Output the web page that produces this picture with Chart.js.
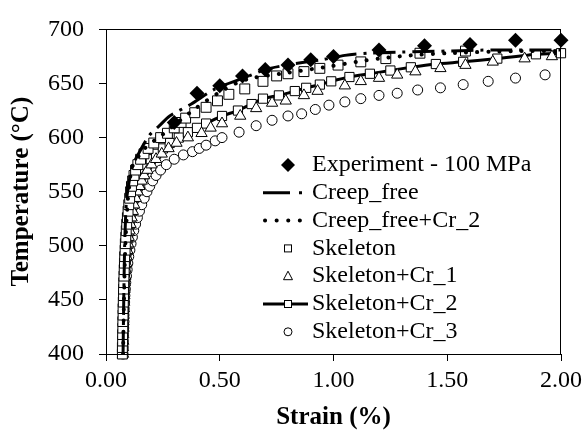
<!DOCTYPE html>
<html>
<head>
<meta charset="utf-8">
<script src="https://cdn.jsdelivr.net/npm/chart.js@4.4.0/dist/chart.umd.min.js"></script>
<style>
  html, body { margin: 0; padding: 0; background: #fff; }
  #wrap { width: 587px; height: 439px; position: relative; }
</style>
</head>
<body>
<div id="wrap"><canvas id="strainChart"></canvas></div>
<script>
// tick values
const xTicks = [0, 0.5, 1.0, 1.5, 2.0];
const yTicks = [400, 450, 500, 550, 600, 650, 700];

// series names (legend order)
const seriesNames = ['Experiment - 100 MPa', 'Creep_free', 'Creep_free+Cr_2', 'Skeleton',
                     'Skeleton+Cr_1', 'Skeleton+Cr_2', 'Skeleton+Cr_3'];

// experiment (strain %, temperature C)
const expStrain = [0.30, 0.40, 0.50, 0.60, 0.70, 0.80, 0.90, 1.00, 1.20, 1.40, 1.60, 1.80, 2.00];
const expTemp   = [614, 641, 648, 657, 663, 667, 672, 675, 681, 685, 686, 690, 690];

// Creep_free (dash-dot line)
const cfStrain = [0.075, 0.078, 0.082, 0.085, 0.090, 0.100, 0.115, 0.135, 0.19, 0.235, 0.28, 0.375,
                  0.48, 0.63, 0.70, 0.82, 0.95, 1.05, 1.15, 1.30, 1.50, 1.70, 2.00];
const cfTemp   = [400, 450, 500, 520, 542, 557, 573, 582, 602, 611, 620, 631,
                  645, 657, 663, 668, 672, 676, 678, 679, 680, 681, 681];

// Creep_free+Cr_2 (dotted line)
const cfCr2Strain = [0.075, 0.079, 0.085, 0.095, 0.105, 0.115, 0.17, 0.25, 0.32, 0.40, 0.50,
                     0.57, 0.64, 0.80, 0.99, 1.10, 1.20, 1.34, 1.50, 1.80, 2.00];
const cfCr2Temp   = [400, 450, 500, 540, 560, 573, 590, 603, 615, 628, 642,
                     650, 655, 660, 666, 670, 673, 676, 678, 680, 680];

// temperatures of the dense low part of the simulations
const lowTemp = [400, 406, 412, 418, 424, 430, 436, 442, 448, 454, 460, 466, 472, 478, 484,
                 490, 496, 502, 508, 514, 520, 526, 532, 538, 544];

// Skeleton (open squares)
const skelTemp = lowTemp.concat([550, 555, 560, 565, 570, 575, 580, 585, 590, 595, 600,
  604, 609, 614, 618, 623, 628, 634, 640,
  645, 652, 657, 659, 661, 664, 667, 670, 673, 678, 680]);
const skelStrain = [0.072, 0.072, 0.073, 0.073, 0.074, 0.074, 0.075, 0.075, 0.076, 0.077, 0.077,
  0.078, 0.079, 0.080, 0.081, 0.082, 0.084, 0.085, 0.087, 0.089, 0.091, 0.094, 0.097, 0.100, 0.104,
  0.108, 0.112, 0.117, 0.123, 0.130, 0.140, 0.152, 0.167, 0.185, 0.21, 0.24,
  0.27, 0.30, 0.33, 0.35, 0.39, 0.44, 0.49, 0.54,
  0.61, 0.69, 0.75, 0.80, 0.87, 0.94, 1.02, 1.12, 1.23, 1.38, 1.58];

// Skeleton+Cr_1 (open triangles)
const cr1Temp = lowTemp.concat([550, 555, 560, 565, 570, 575, 580, 585, 590, 595, 600,
  604, 609, 613, 620, 627, 632, 634, 639, 643, 648, 652, 655, 658, 661, 664, 667, 670, 673, 675]);
const cr1Strain = [0.075, 0.075, 0.076, 0.076, 0.077, 0.077, 0.078, 0.079, 0.080, 0.081, 0.082,
  0.083, 0.085, 0.087, 0.089, 0.091, 0.094, 0.097, 0.100, 0.104, 0.108, 0.113, 0.118, 0.124, 0.131,
  0.139, 0.147, 0.157, 0.168, 0.182, 0.20, 0.22, 0.245, 0.275, 0.31, 0.36,
  0.42, 0.46, 0.51, 0.59, 0.66, 0.73, 0.79, 0.87, 0.93, 1.05, 1.12, 1.20, 1.28, 1.36, 1.47,
  1.58, 1.70, 1.84, 1.96];

// Skeleton+Cr_2 (line with squares)
const cr2Temp = lowTemp.concat([550, 555, 560, 565, 570, 575, 580, 585, 590, 595, 600,
  605, 609, 613, 620, 625, 631, 636, 639, 643, 646, 649, 652, 656, 659, 662, 665, 668, 670,
  673, 677, 678]);
const cr2Strain = [0.074, 0.074, 0.075, 0.075, 0.076, 0.076, 0.077, 0.078, 0.079, 0.080, 0.081,
  0.082, 0.083, 0.085, 0.087, 0.089, 0.091, 0.094, 0.097, 0.100, 0.104, 0.108, 0.113, 0.118, 0.124,
  0.131, 0.138, 0.146, 0.155, 0.166, 0.18, 0.197, 0.22, 0.25, 0.28, 0.32,
  0.36, 0.40, 0.44, 0.51, 0.58, 0.64, 0.69, 0.76, 0.83, 0.88, 0.94, 0.99, 1.07, 1.16, 1.25,
  1.34, 1.45, 1.57, 1.72, 1.89, 2.00];

// Skeleton+Cr_3 (open circles)
const cr3Temp = lowTemp.concat([550, 555, 560, 565, 570, 575, 580, 584, 587, 590, 593, 597, 600,
  605, 611, 616, 620, 622, 626, 630, 633, 636, 639, 641, 644, 646, 649, 652, 655, 658]);
const cr3Strain = [0.075, 0.076, 0.076, 0.077, 0.078, 0.079, 0.079, 0.080, 0.082, 0.083, 0.085,
  0.087, 0.090, 0.093, 0.096, 0.100, 0.105, 0.110, 0.116, 0.122, 0.130, 0.138, 0.147, 0.157, 0.168,
  0.18, 0.192, 0.205, 0.22, 0.24, 0.265, 0.30, 0.34, 0.38, 0.41, 0.44, 0.48, 0.51,
  0.585, 0.66, 0.73, 0.80, 0.86, 0.92, 0.98, 1.05, 1.12, 1.20, 1.28, 1.37, 1.47, 1.57,
  1.68, 1.80, 1.93];

const FONT = 'Liberation Serif';

function pts(xs, ys) {
    return xs.map((x, i) => ({ x: x, y: ys[i] }));
}

// box round the plot area
const framePlugin = {
    id: 'frame',
    afterDraw(chart) {
        const a = chart.chartArea;
        const ctx = chart.ctx;
        ctx.save();
        ctx.strokeStyle = '#000';
        ctx.lineWidth = 1;
        ctx.strokeRect(Math.round(a.left) + 0.5, Math.round(a.top) + 0.5,
                       Math.round(a.right - a.left) - 1, Math.round(a.bottom - a.top));
        ctx.restore();
    }
};

// legend drawn inside the plot, no box
const legendPlugin = {
    id: 'innerLegend',
    afterDraw(chart) {
        const ctx = chart.ctx;
        const sx = 288, tx = 312, y0 = 165, dy = 27.8;
        ctx.save();
        ctx.fillStyle = '#000';
        ctx.strokeStyle = '#000';
        ctx.font = '24px "' + FONT + '"';
        ctx.textBaseline = 'middle';
        ctx.textAlign = 'left';
        seriesNames.forEach((name, i) => {
            const y = y0 + i * dy;
            ctx.save();
            ctx.lineWidth = 1;
            if (i === 0) {
                ctx.beginPath();
                ctx.moveTo(sx, y - 7); ctx.lineTo(sx + 7, y); ctx.lineTo(sx, y + 7); ctx.lineTo(sx - 7, y);
                ctx.closePath(); ctx.fill();
            } else if (i === 1) {
                ctx.lineWidth = 3;
                ctx.setLineDash([27, 9, 3, 9]);
                ctx.beginPath(); ctx.moveTo(263, y); ctx.lineTo(311, y); ctx.stroke();
            } else if (i === 2) {
                ctx.lineWidth = 4;
                ctx.lineCap = 'round';
                ctx.setLineDash([0.1, 11.5]);
                ctx.beginPath(); ctx.moveTo(265, y); ctx.lineTo(305, y); ctx.stroke();
            } else if (i === 3) {
                ctx.fillStyle = '#fff';
                ctx.fillRect(sx - 3.5, y - 3.5, 7, 7);
                ctx.strokeRect(sx - 3.5, y - 3.5, 7, 7);
            } else if (i === 4) {
                ctx.fillStyle = '#fff';
                ctx.beginPath();
                ctx.moveTo(sx, y - 5); ctx.lineTo(sx + 4.5, y + 3.5); ctx.lineTo(sx - 4.5, y + 3.5);
                ctx.closePath(); ctx.fill(); ctx.stroke();
            } else if (i === 5) {
                ctx.lineWidth = 3;
                ctx.beginPath(); ctx.moveTo(263, y); ctx.lineTo(308, y); ctx.stroke();
                ctx.lineWidth = 1;
                ctx.fillStyle = '#fff';
                ctx.fillRect(sx - 3.5, y - 3.5, 7, 7);
                ctx.strokeRect(sx - 3.5, y - 3.5, 7, 7);
            } else {
                ctx.fillStyle = '#fff';
                ctx.beginPath(); ctx.arc(sx, y, 4, 0, Math.PI * 2);
                ctx.fill(); ctx.stroke();
            }
            ctx.restore();
            ctx.fillText(name, tx, y);
        });
        ctx.restore();
    }
};

const ctx = document.getElementById('strainChart');
new Chart(ctx, {
    type: 'scatter',
    data: {
        datasets: [{
            label: seriesNames[0],
            data: pts(expStrain, expTemp),
            pointStyle: 'rectRot',
            pointRadius: 7.5,
            backgroundColor: '#000',
            borderColor: '#000',
            borderWidth: 0,
            showLine: false,
            clip: false
        }, {
            label: seriesNames[1],
            data: pts(cfStrain, cfTemp),
            showLine: true,
            pointRadius: 0,
            borderColor: '#000',
            borderWidth: 3,
            borderDash: [22, 7, 3, 7],
            tension: 0.25
        }, {
            label: seriesNames[2],
            data: pts(cfCr2Strain, cfCr2Temp),
            showLine: true,
            pointRadius: 0,
            borderColor: '#000',
            borderWidth: 4,
            borderCapStyle: 'round',
            borderDash: [0.1, 11],
            tension: 0.25
        }, {
            label: seriesNames[3],
            data: pts(skelStrain, skelTemp),
            showLine: false,
            pointStyle: 'rect',
            pointRadius: 7,
            backgroundColor: '#fff',
            borderColor: '#000',
            borderWidth: 1,
            clip: false
        }, {
            label: seriesNames[4],
            data: pts(cr1Strain, cr1Temp),
            showLine: false,
            pointStyle: 'triangle',
            pointRadius: 6.5,
            backgroundColor: '#fff',
            borderColor: '#000',
            borderWidth: 1,
            clip: false
        }, {
            label: seriesNames[5],
            data: pts(cr2Strain, cr2Temp),
            showLine: true,
            pointStyle: 'rect',
            pointRadius: 6.5,
            pointBackgroundColor: '#fff',
            pointBorderColor: '#000',
            pointBorderWidth: 1,
            borderColor: '#000',
            borderWidth: 3,
            tension: 0.2,
            clip: false
        }, {
            label: seriesNames[6],
            data: pts(cr3Strain, cr3Temp),
            showLine: false,
            pointStyle: 'circle',
            pointRadius: 5,
            backgroundColor: '#fff',
            borderColor: '#000',
            borderWidth: 1,
            clip: false
        }]
    },
    options: {
        responsive: true,
        maintainAspectRatio: false,
        animation: false,
        layout: { padding: { top: 22, right: 23, left: 0, bottom: 0 } },
        plugins: {
            legend: { display: false },
            tooltip: { enabled: false }
        },
        scales: {
            x: {
                type: 'linear',
                min: xTicks[0],
                max: xTicks[xTicks.length - 1],
                afterBuildTicks(scale) { scale.ticks = xTicks.map(v => ({ value: v })); },
                afterFit(scale) { scale.height = 85; },
                ticks: {
                    callback: v => v.toFixed(2),
                    font: { family: FONT, size: 24 },
                    color: '#000',
                    padding: 5,
                    maxRotation: 0
                },
                grid: { drawOnChartArea: false, drawTicks: true, tickLength: 7, color: '#000' },
                border: { display: true, color: '#000', width: 1 },
                title: {
                    display: true,
                    text: 'Strain (%)',
                    font: { family: FONT, size: 25, weight: 'bold' },
                    color: '#000',
                    padding: { top: 0, bottom: 6 }
                }
            },
            y: {
                type: 'linear',
                min: yTicks[0],
                max: yTicks[yTicks.length - 1],
                afterBuildTicks(scale) { scale.ticks = yTicks.map(v => ({ value: v })); },
                afterFit(scale) { scale.width = 106; },
                ticks: {
                    callback: v => String(v),
                    font: { family: FONT, size: 24 },
                    color: '#000',
                    padding: 15
                },
                grid: { drawOnChartArea: false, drawTicks: true, tickLength: 7, color: '#000' },
                border: { display: true, color: '#000', width: 1 },
                title: {
                    display: true,
                    text: 'Temperature (°C)',
                    font: { family: FONT, size: 25, weight: 'bold' },
                    color: '#000',
                    padding: { top: 7, bottom: 0 }
                }
            }
        }
    },
    plugins: [framePlugin, legendPlugin]
});
</script>
</body>
</html>
